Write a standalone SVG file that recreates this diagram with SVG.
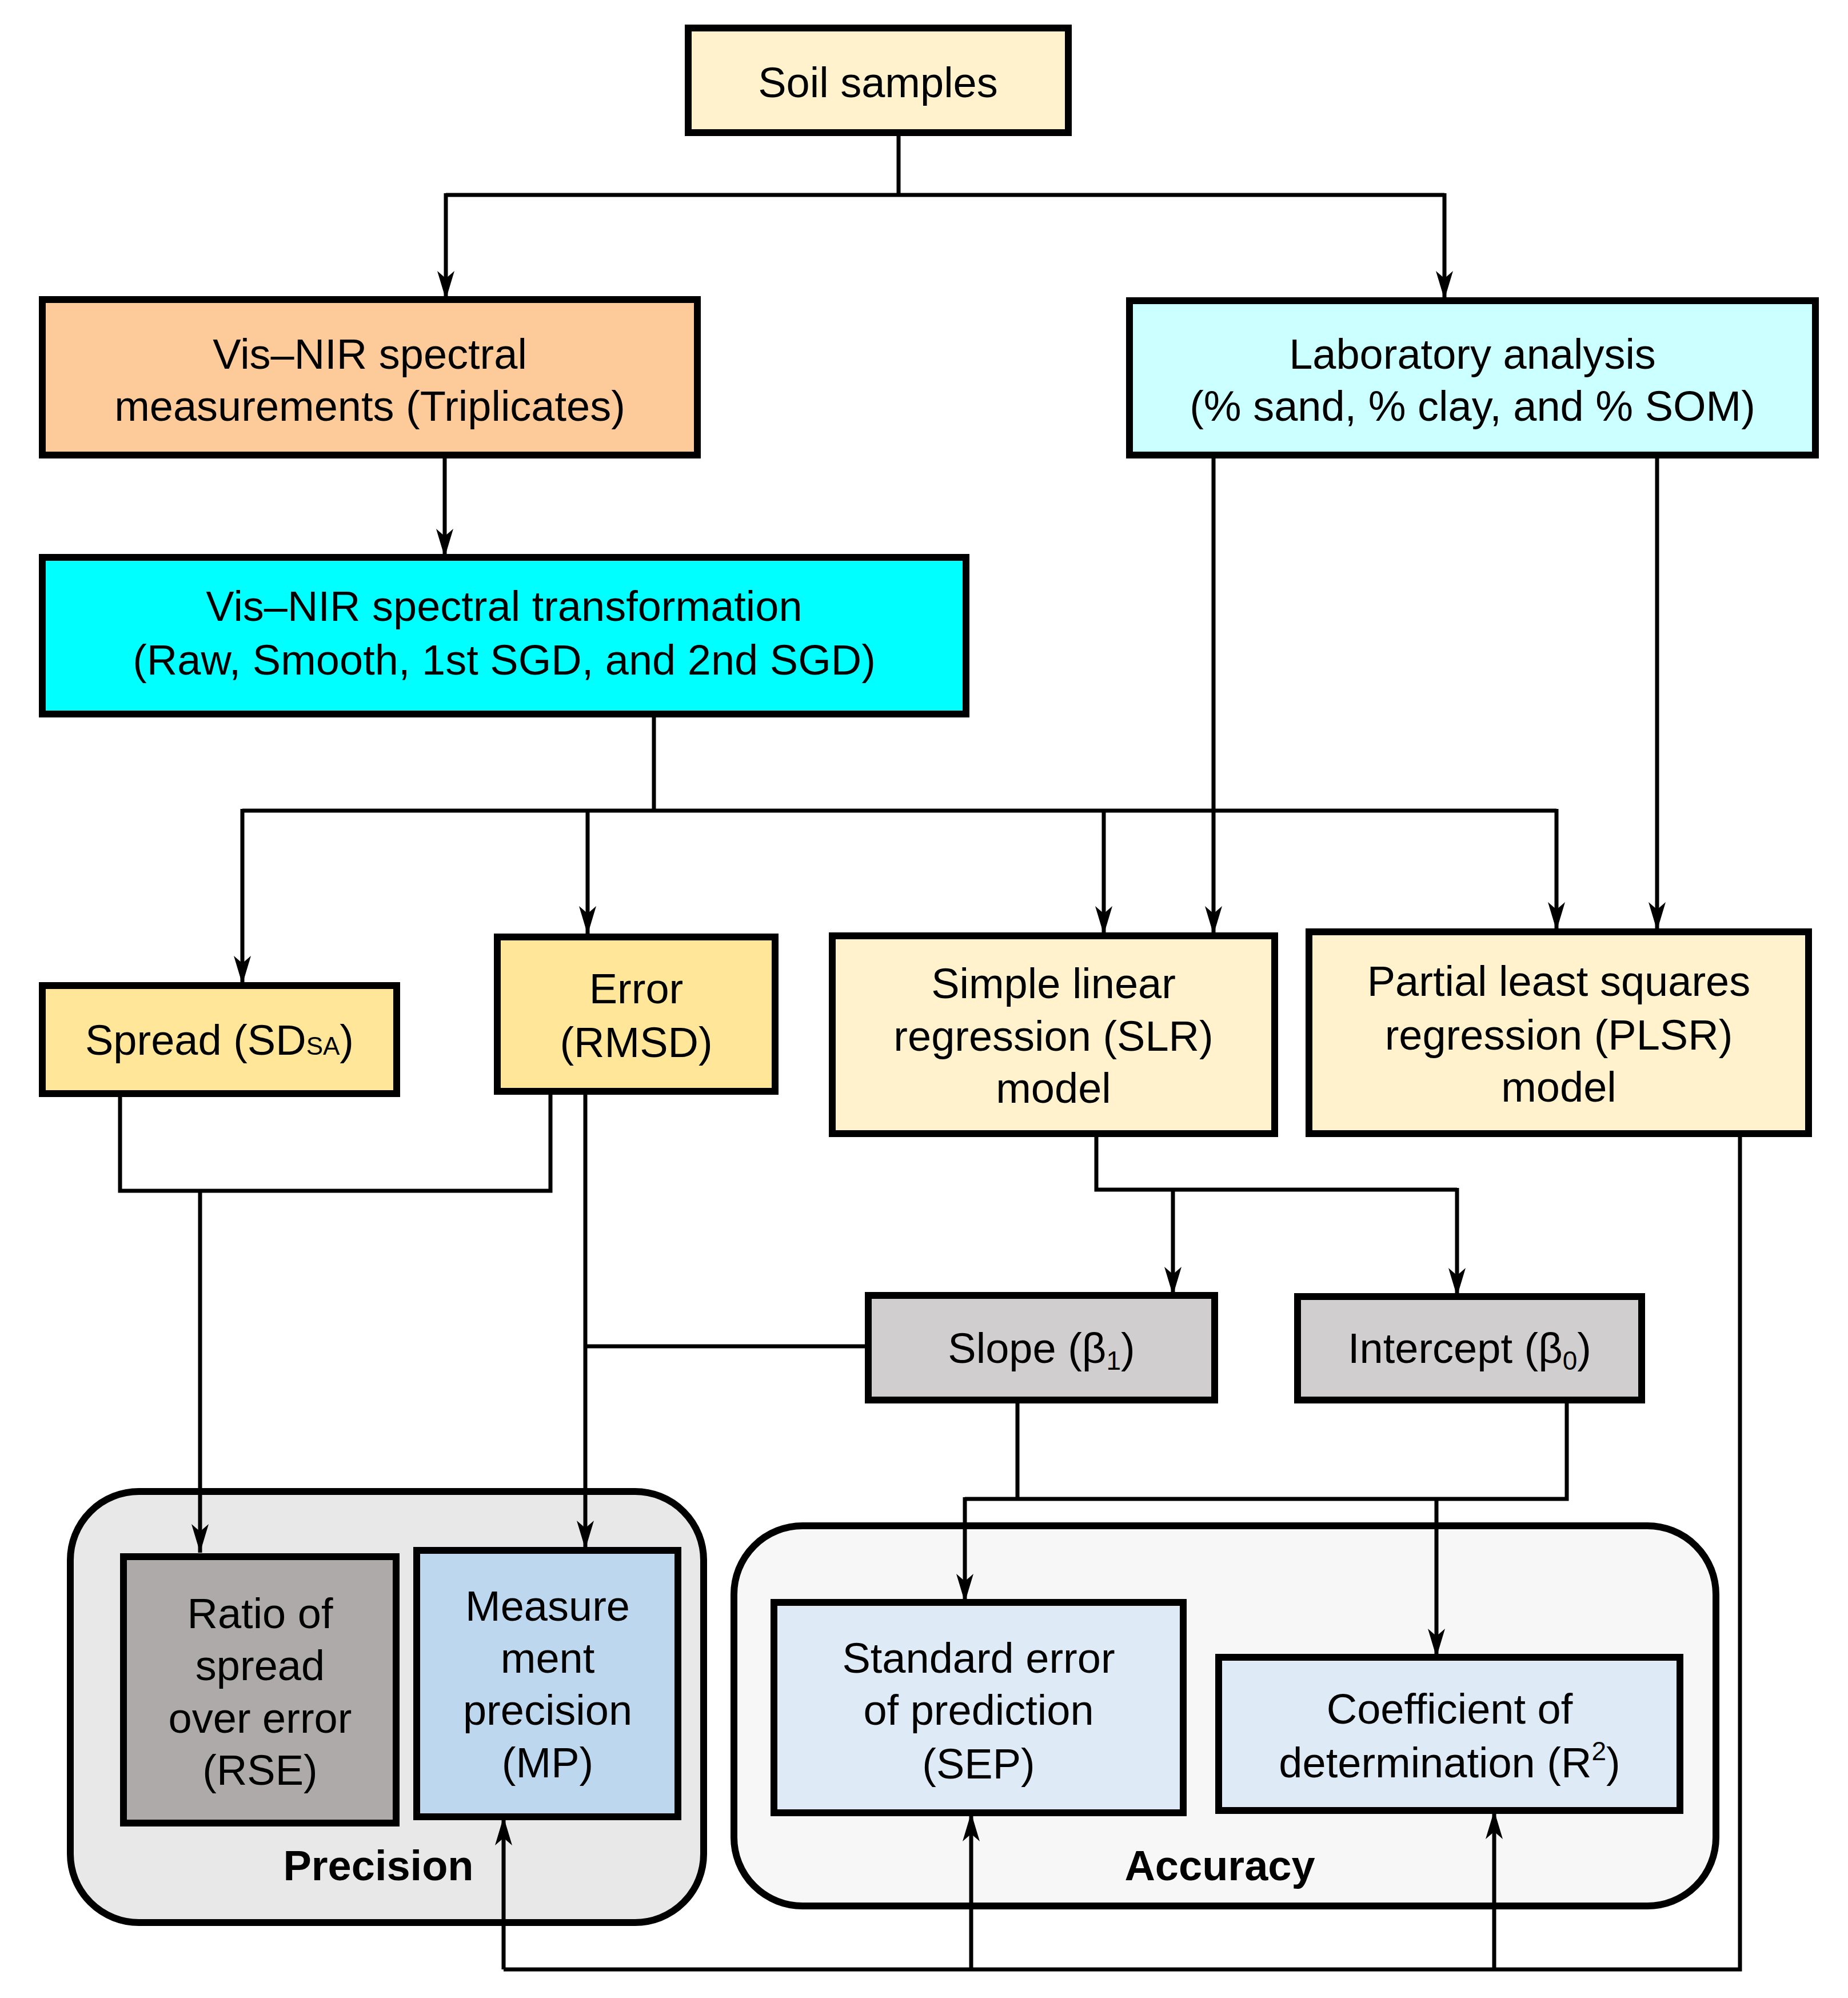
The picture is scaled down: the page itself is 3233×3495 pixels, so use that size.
<svg xmlns="http://www.w3.org/2000/svg" width="3233" height="3495" viewBox="0 0 3233 3495">
<style>
.b{stroke:#000;stroke-width:12}
.g{stroke:#000;stroke-width:12}
.t{font-family:"Liberation Sans",Arial,sans-serif;font-size:74px;text-anchor:middle;fill:#000}
.bold{font-weight:bold}
.c path{fill:none;stroke:#000;stroke-width:7}
</style>
<defs>
<marker id="a" markerUnits="userSpaceOnUse" markerWidth="50" markerHeight="30" refX="50" refY="15" orient="auto">
<path d="M0,0 L50,15 L0,30 L13,15 z" fill="#000"/>
</marker>
</defs>
<rect width="3233" height="3495" fill="#fff"/>
<g id="precision-group"><rect class="g" x="123" y="2609" width="1108" height="754" rx="120" fill="#E8E8E8"/><text class="t bold" x="662" y="3289">Precision</text></g>
<g id="accuracy-group"><rect class="g" x="1284" y="2669" width="1718" height="665" rx="120" fill="#F7F7F7"/><text class="t bold" x="2134" y="3289">Accuracy</text></g>
<g class="c" id="connectors">
<path d="M1572,232 V341 M780,341 H2527"/>
<path d="M780,338 V524" marker-end="url(#a)"/>
<path d="M2527,338 V524" marker-end="url(#a)"/>
<path d="M778,796 V975" marker-end="url(#a)"/>
<path d="M1144,1249 V1418 M424,1418 H2723"/>
<path d="M424,1415 V1722" marker-end="url(#a)"/>
<path d="M1028,1415 V1635" marker-end="url(#a)"/>
<path d="M1931,1415 V1635" marker-end="url(#a)"/>
<path d="M2723,1415 V1628" marker-end="url(#a)"/>
<path d="M2123,796 V1635" marker-end="url(#a)"/>
<path d="M2899,796 V1628" marker-end="url(#a)"/>
<path d="M210,1913 V2083 H963 V1909"/>
<path d="M350,2083 V2716" marker-end="url(#a)"/>
<path d="M1024,1909 V2710" marker-end="url(#a)"/>
<path d="M1024,2355 H1519"/>
<path d="M1918,1983 V2081 H2549"/>
<path d="M2052,2081 V2266" marker-end="url(#a)"/>
<path d="M2549,2078 V2268" marker-end="url(#a)"/>
<path d="M1780,2449 V2622 M1688,2622 H2741 V2449"/>
<path d="M1688,2619 V2803" marker-end="url(#a)"/>
<path d="M2513,2622 V2899" marker-end="url(#a)"/>
<path d="M3044,1983 V3445 H881"/>
<path d="M881,3445 V3178" marker-end="url(#a)"/>
<path d="M1699,3445 V3171" marker-end="url(#a)"/>
<path d="M2614,3445 V3167" marker-end="url(#a)"/>
</g>
<g id="soil"><rect class="b" x="1204" y="49" width="665" height="183" fill="#FFF2CC"/><text class="t" x="1536" y="170">Soil samples</text></g>
<g id="visnir"><rect class="b" x="74" y="524" width="1146" height="272" fill="#FDCB9A"/><text class="t" x="647" y="645">Vis–NIR spectral</text><text class="t" x="647" y="736">measurements (Triplicates)</text></g>
<g id="lab"><rect class="b" x="1976" y="526" width="1200" height="270" fill="#CCFFFF"/><text class="t" x="2576" y="645">Laboratory analysis</text><text class="t" x="2576" y="736">(% sand, % clay, and % SOM)</text></g>
<g id="trans"><rect class="b" x="74" y="975" width="1616" height="274" fill="#00FFFF"/><text class="t" x="882" y="1086">Vis–NIR spectral transformation</text><text class="t" x="882" y="1180">(Raw, Smooth, 1st SGD, and 2nd SGD)</text></g>
<g id="spread"><rect class="b" x="74" y="1724" width="620" height="189" fill="#FFE699"/><text class="t" x="384" y="1845">Spread (SD<tspan font-size="44">SA</tspan>)</text></g>
<g id="error"><rect class="b" x="870" y="1639" width="486" height="270" fill="#FFE699"/><text class="t" x="1113" y="1755">Error</text><text class="t" x="1113" y="1849">(RMSD)</text></g>
<g id="slr"><rect class="b" x="1456" y="1637" width="774" height="346" fill="#FFF2CC"/><text class="t" x="1843" y="1746">Simple linear</text><text class="t" x="1843" y="1838">regression (SLR)</text><text class="t" x="1843" y="1929">model</text></g>
<g id="plsr"><rect class="b" x="2290" y="1630" width="874" height="353" fill="#FFF2CC"/><text class="t" x="2727" y="1742">Partial least squares</text><text class="t" x="2727" y="1836">regression (PLSR)</text><text class="t" x="2727" y="1927">model</text></g>
<g id="slope"><rect class="b" x="1519" y="2266" width="606" height="183" fill="#D0CECE"/><text class="t" x="1822" y="2384">Slope (β<tspan font-size="46" dy="12">1</tspan><tspan dy="-12">)</tspan></text></g>
<g id="intercept"><rect class="b" x="2270" y="2268" width="602" height="181" fill="#D0CECE"/><text class="t" x="2571" y="2384">Intercept (β<tspan font-size="46" dy="12">0</tspan><tspan dy="-12">)</tspan></text></g>
<g id="rse"><rect class="b" x="216" y="2723" width="477" height="466" fill="#AEAAAA"/><text class="t" x="455" y="2848">Ratio of</text><text class="t" x="455" y="2939">spread</text><text class="t" x="455" y="3031">over error</text><text class="t" x="455" y="3122">(RSE)</text></g>
<g id="mp"><rect class="b" x="729" y="2712" width="457" height="466" fill="#BDD7EE"/><text class="t" x="958" y="2835">Measure</text><text class="t" x="958" y="2926">ment</text><text class="t" x="958" y="3017">precision</text><text class="t" x="958" y="3109">(MP)</text></g>
<g id="sep"><rect class="b" x="1354" y="2803" width="716" height="368" fill="#DEEBF7"/><text class="t" x="1712" y="2926">Standard error</text><text class="t" x="1712" y="3017">of prediction</text><text class="t" x="1712" y="3111">(SEP)</text></g>
<g id="r2"><rect class="b" x="2132" y="2899" width="807" height="268" fill="#DEEBF7"/><text class="t" x="2536" y="3015">Coefficient of</text><text class="t" x="2536" y="3109">determination (R<tspan font-size="46" dy="-30">2</tspan><tspan dy="30">)</tspan></text></g>
</svg>
